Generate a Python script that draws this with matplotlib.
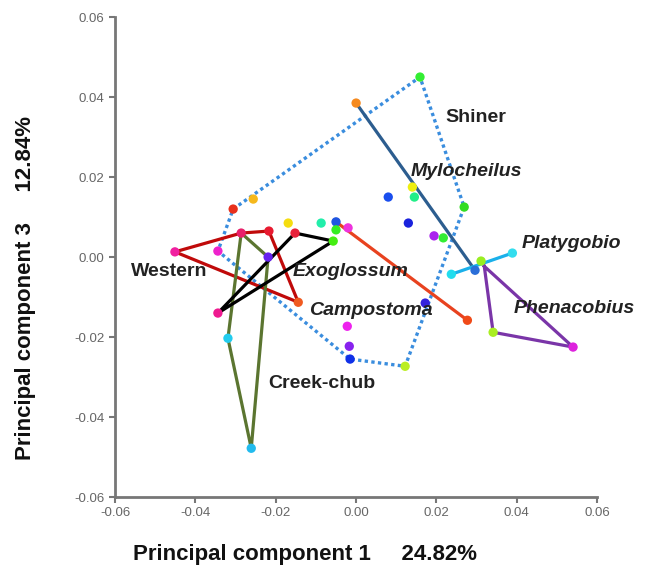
import matplotlib
matplotlib.use("Agg")
import matplotlib.pyplot as plt

plt.rcParams['font.family'] = ['Liberation Sans', 'DejaVu Sans']

# individual specimens (PC1, PC3) and their colours
pt_x = [-0.0306, 0.0159, 0.0269, 0.0122, -0.0015, -0.0344, 0.0, 0.0296, 0.0237, 0.0311,
        0.0389, 0.0341, 0.054, -0.005, 0.0277, -0.0451, -0.0286, -0.0217, -0.0144, -0.0219,
        -0.0261, -0.0319, -0.0344, -0.0152, -0.0057, -0.0256, -0.0169, -0.0087, -0.005, -0.002,
        0.008, 0.014, 0.0145, 0.013, 0.0194, 0.0217, 0.0172, -0.0022, -0.0017]
pt_y = [0.012, 0.045, 0.0125, -0.0273, -0.0255, 0.0015, 0.0385, -0.0033, -0.0043, -0.001,
        0.001, -0.0188, -0.0225, 0.0088, -0.0158, 0.0013, 0.006, 0.0065, -0.0113, 0.0,
        -0.0478, -0.0203, -0.014, 0.006, 0.004, 0.0145, 0.0085, 0.0085, 0.0068, 0.0073,
        0.015, 0.0175, 0.015, 0.0085, 0.0053, 0.0048, -0.0115, -0.0173, -0.0223]
pt_col = ['#E8301C', '#33EE33', '#33DD22', '#BBEE22', '#1030E8', '#EE22CC', '#F58A1F', '#2A6ED8',
          '#22DDEE', '#99EE22', '#33DDEE', '#AAEE22', '#DD22DD', '#1F55E0', '#F04A18', '#F020A0',
          '#E8206A', '#E81A30', '#F05A20', '#6622EE', '#22BBEE', '#22CCEE', '#EE1A90', '#E8203A',
          '#44EE11', '#F5B81C', '#F5DD10', '#22EEAA', '#33EE22', '#EE33DD', '#1A4EEE', '#EEEE10',
          '#22EE88', '#1A22DD', '#AA22EE', '#33EE33', '#3322DD', '#EE22EE', '#8822EE']

# group outlines
shiner_x = [-0.0306, 0.0159, 0.0269, 0.0122, -0.0015, -0.0344, -0.0306]
shiner_y = [0.012, 0.045, 0.0125, -0.0273, -0.0255, 0.0015, 0.012]
myl_x = [0.0, 0.0296]
myl_y = [0.0385, -0.0033]
platy_x = [0.0237, 0.0389]
platy_y = [-0.0043, 0.001]
phen_x = [0.0319, 0.0341, 0.054, 0.0319]
phen_y = [-0.0023, -0.0188, -0.0225, -0.0023]
campo_x = [-0.005, 0.0277]
campo_y = [0.0088, -0.0158]
west_x = [-0.0451, -0.0286, -0.0217, -0.0144, -0.0451]
west_y = [0.0013, 0.006, 0.0065, -0.0113, 0.0013]
creek_x = [-0.0286, -0.0219, -0.0261, -0.0319, -0.0286]
creek_y = [0.006, 0.0, -0.0478, -0.0203, 0.006]
exo_x = [-0.0344, -0.0152, -0.0057, -0.0344]
exo_y = [-0.014, 0.006, 0.004, -0.014]

fig = plt.figure(figsize=(6.65, 5.78), dpi=100)
ax = fig.add_axes([0.173, 0.140, 0.725, 0.8305])

lw = 2.3
ax.plot(shiner_x, shiner_y, color='#3A8DDE', lw=2.4, linestyle=(0, (1, 1)), zorder=2)
ax.plot(myl_x, myl_y, color='#2C5D8F', lw=lw, zorder=2)
ax.plot(platy_x, platy_y, color='#1AB0EA', lw=lw, zorder=2)
ax.plot(phen_x, phen_y, color='#7A35A8', lw=lw, zorder=2)
ax.plot(campo_x, campo_y, color='#E8421F', lw=lw, zorder=2)
ax.plot(west_x, west_y, color='#C00A0A', lw=lw, zorder=2)
ax.plot(creek_x, creek_y, color='#5B7530', lw=lw, zorder=2)
ax.plot(exo_x, exo_y, color='black', lw=lw, zorder=2)

ax.scatter(pt_x, pt_y, c=pt_col, s=45, edgecolors='none', zorder=3)

fs = 14
ax.text(0.0222, 0.035, 'Shiner', fontsize=fs, fontweight='bold', color='#222222', va='center')
ax.text(0.0135, 0.0213, 'Mylocheilus', fontsize=fs, fontweight='bold', style='italic', color='#222222', va='center')
ax.text(0.0413, 0.0035, 'Platygobio', fontsize=fs, fontweight='bold', style='italic', color='#222222', va='center')
ax.text(0.0391, -0.0128, 'Phenacobius', fontsize=fs, fontweight='bold', style='italic', color='#222222', va='center')
ax.text(-0.0117, -0.0133, 'Campostoma', fontsize=fs, fontweight='bold', style='italic', color='#222222', va='center')
ax.text(-0.0159, -0.0037, 'Exoglossum', fontsize=fs, fontweight='bold', style='italic', color='#222222', va='center')
ax.text(-0.056, -0.0037, 'Western', fontsize=fs, fontweight='bold', color='#222222', va='center')
ax.text(-0.0219, -0.0315, 'Creek-chub', fontsize=fs, fontweight='bold', color='#222222', va='center')

ax.set_xlim(-0.06, 0.06)
ax.set_ylim(-0.06, 0.06)
ticks = [-0.06, -0.04, -0.02, 0.0, 0.02, 0.04, 0.06]
ax.set_xticks(ticks)
ax.set_yticks(ticks)
ax.set_xticklabels(['%.2f' % t for t in ticks])
ax.set_yticklabels(['%.2f' % t for t in ticks])
ax.tick_params(colors='#777777', labelcolor='#666666', labelsize=9.5, length=4, width=1.5)
for side in ['top', 'right']:
    ax.spines[side].set_visible(False)
for side in ['left', 'bottom']:
    ax.spines[side].set_color('#777777')
    ax.spines[side].set_linewidth(2)

fig.text(0.459, 0.04, 'Principal component 1     24.82%', fontsize=16, fontweight='bold',
         ha='center', va='center', color='#111111')
fig.text(0.038, 0.502, 'Principal component 3     12.84%', fontsize=16, fontweight='bold',
         ha='center', va='center', rotation=90, color='#111111')

fig.savefig('out.png', dpi=100)
